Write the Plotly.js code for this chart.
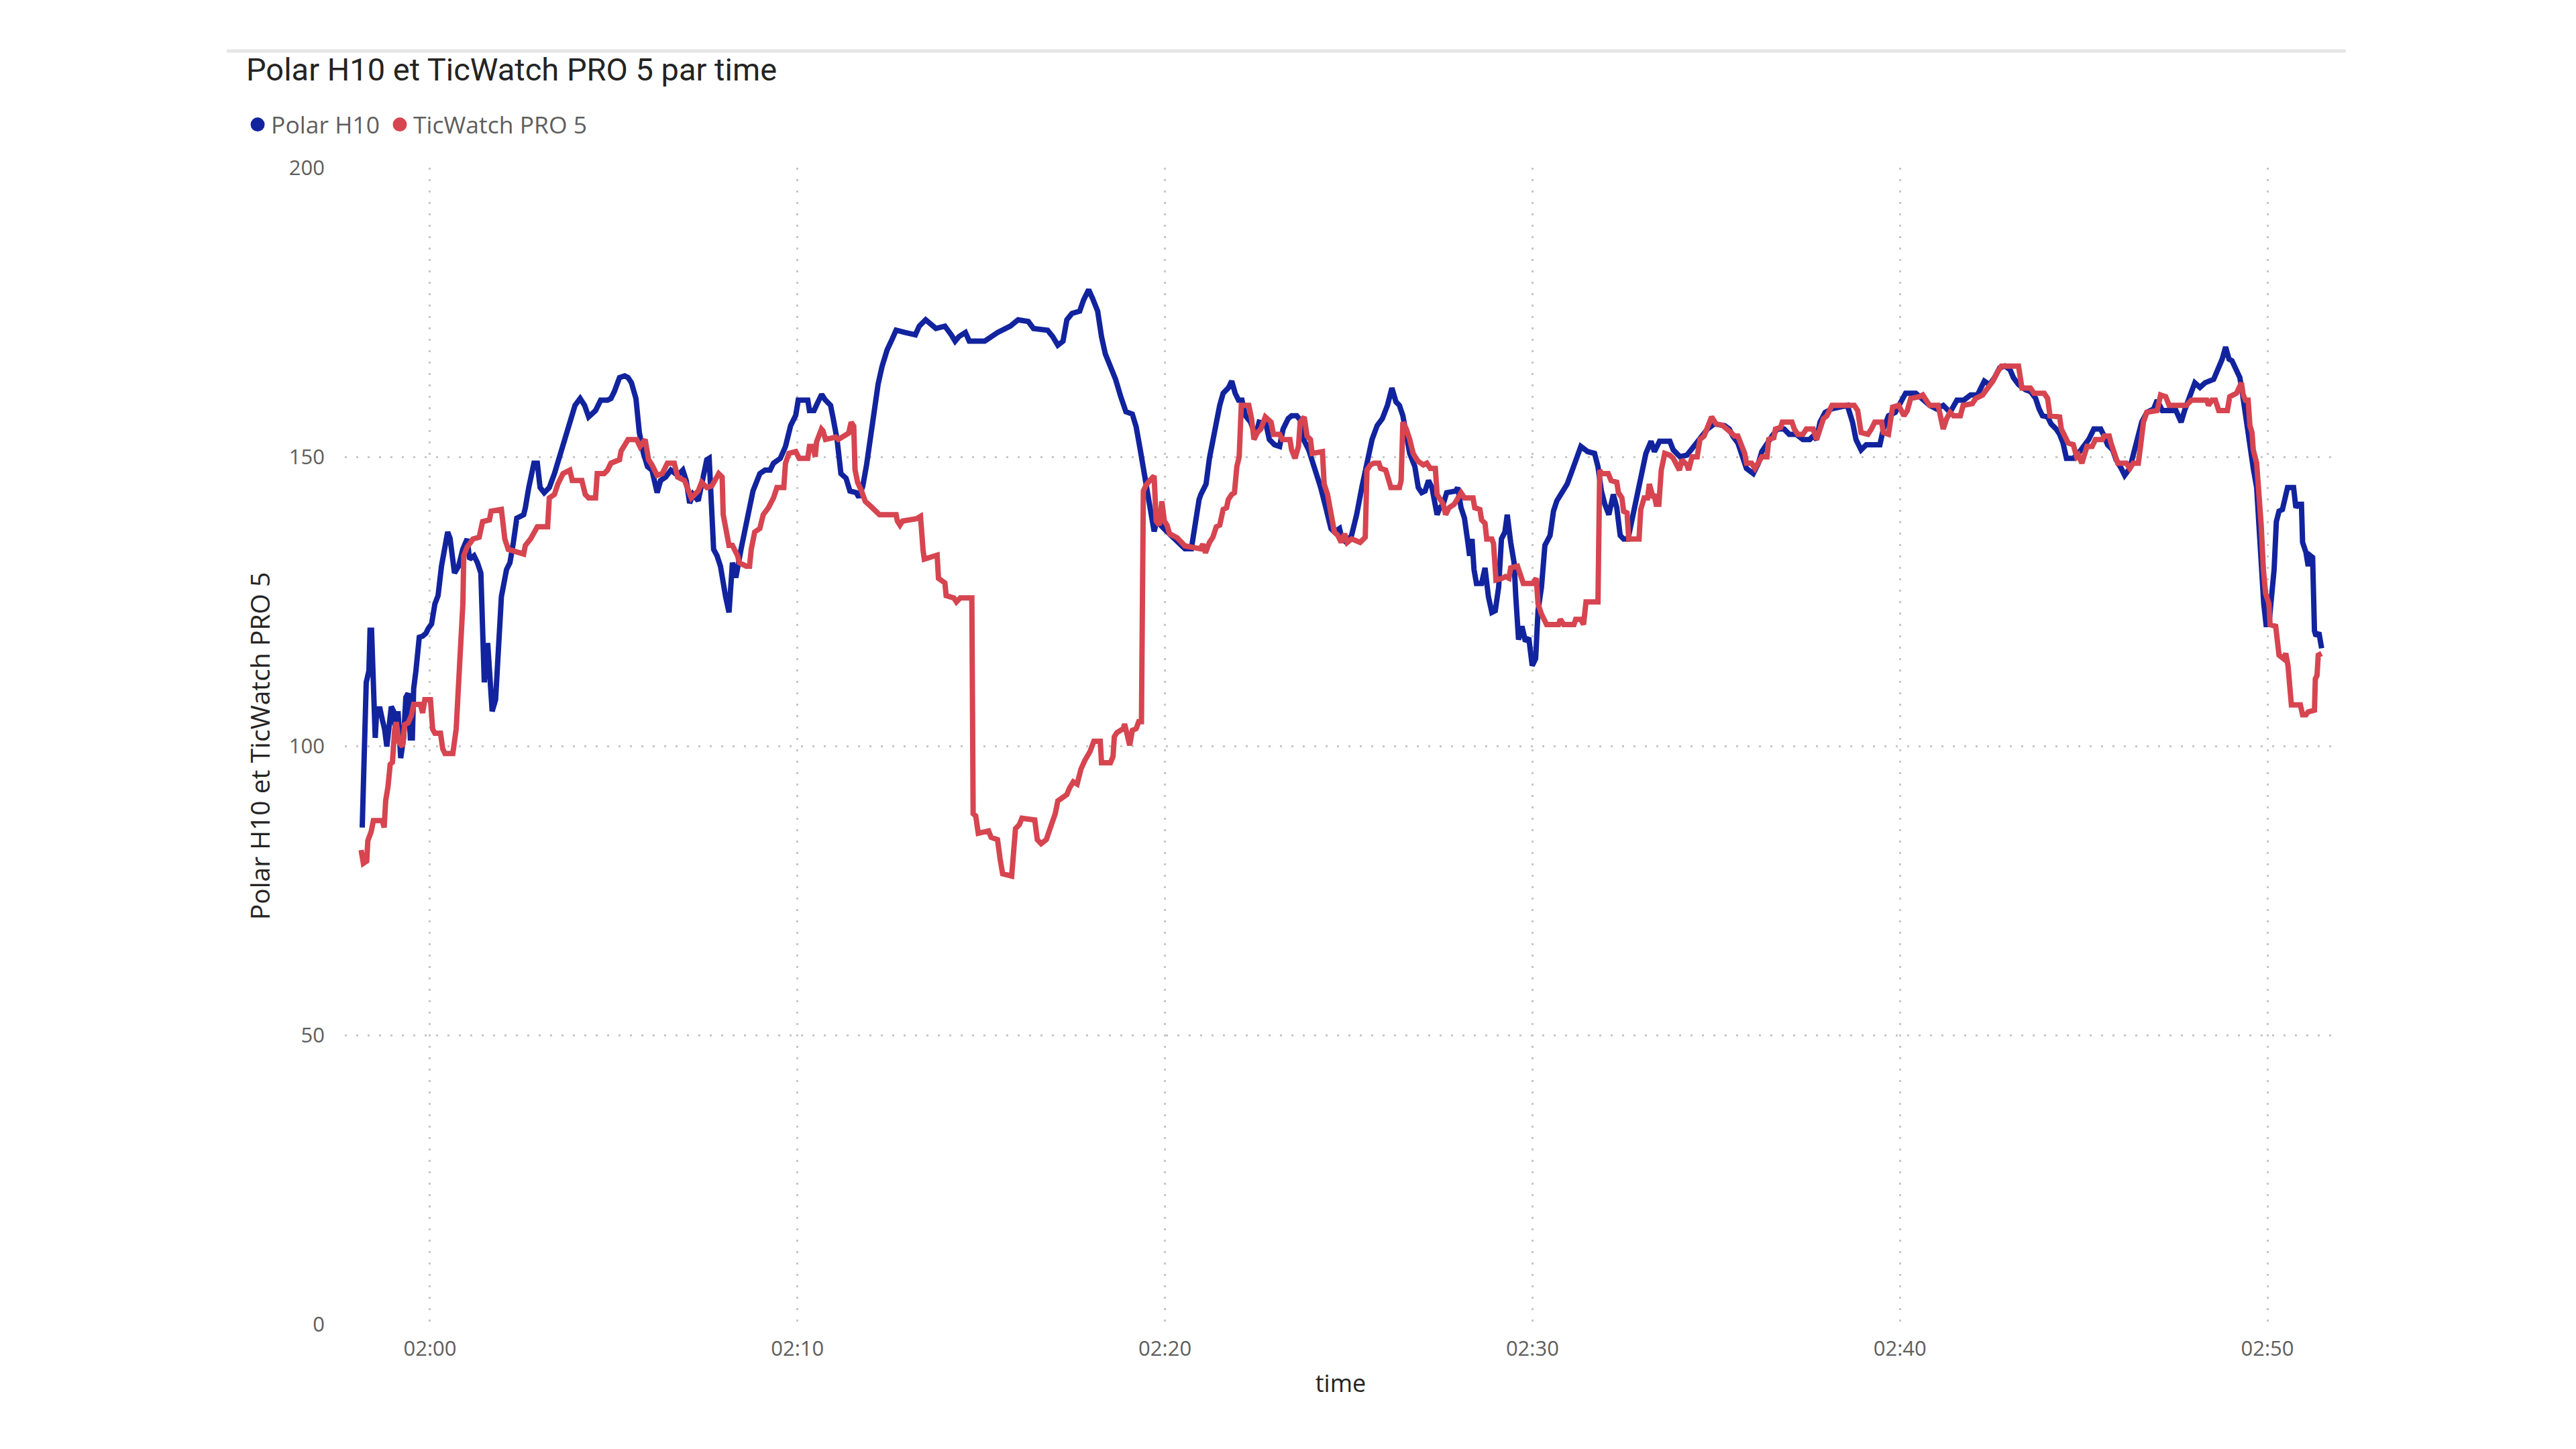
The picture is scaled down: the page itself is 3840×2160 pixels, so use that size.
<!DOCTYPE html>
<html>
<head>
<meta charset="utf-8">
<script src="https://cdn.plot.ly/plotly-3.0.1.min.js"></script>
<style>
  html, body { margin: 0; padding: 0; background: #ffffff; }
  #chart { width: 3840px; height: 2160px; }
</style>
</head>
<body>
<div id="chart"></div>
<script>
// ---- Data (minutes relative to 02:00, heart rate in bpm) ----
const seriesNames = ['Polar H10', 'TicWatch PRO 5'];
const seriesColors = ['#12239E', '#D64550'];

const polarMin = [
-1.844,-1.814,-1.783,-1.735,-1.662,-1.631,-1.59,-1.54,-1.49,-1.448,-1.36,-1.296,-1.235,-1.174,-1.113,-1.053,-0.99,-0.931,-0.87,-0.797,
-0.718,-0.657,-0.596,-0.535,-0.48,-0.444,-0.383,-0.292,-0.2,-0.11,-0.049,0.043,0.134,0.22,0.313,0.406,0.481,0.546,0.667,0.779,
0.891,1.012,1.077,1.198,1.291,1.384,1.431,1.478,1.57,1.692,1.785,1.85,1.943,2.083,2.176,2.269,2.362,2.549,2.595,2.688,
2.828,2.921,2.996,3.107,3.247,3.387,3.527,3.666,3.834,3.946,4.086,4.207,4.318,4.505,4.644,4.831,4.924,5.017,5.157,5.297,
5.39,5.482,5.604,5.697,5.808,5.92,6.041,6.181,6.274,6.414,6.554,6.74,6.88,6.973,7.066,7.159,7.299,7.439,7.532,7.597,
7.671,7.718,7.811,7.904,8.044,8.137,8.23,8.323,8.463,8.556,8.696,8.789,8.975,9.115,9.255,9.348,9.534,9.674,9.814,9.953,
10.02,10.28,10.326,10.45,10.559,10.658,10.75,10.9,10.97,11.077,11.182,11.322,11.427,11.6,11.671,11.776,11.88,11.985,12.09,12.195,
12.3,12.44,12.58,12.684,12.929,13.208,13.313,13.487,13.767,14.011,14.186,14.29,14.395,14.57,14.675,15.094,15.444,15.793,16.003,16.282,
16.422,16.806,16.945,17.085,17.225,17.33,17.47,17.68,17.784,17.924,18.03,18.168,18.273,18.377,18.517,18.657,18.797,18.937,19.111,19.216,
19.32,19.425,19.53,19.635,19.705,19.81,19.88,19.984,20.124,20.333,20.543,20.718,20.823,20.928,20.978,21.118,21.21,21.304,21.397,21.49,
21.584,21.723,21.817,21.91,22.003,22.096,22.19,22.33,22.468,22.562,22.748,22.84,22.98,23.12,23.214,23.353,23.446,23.586,23.726,23.772,
23.912,24.005,24.099,24.238,24.378,24.518,24.61,24.75,24.816,24.937,25.077,25.216,25.356,25.496,25.635,25.775,25.915,26.054,26.175,26.287,
26.38,26.474,26.567,26.66,26.8,26.893,26.986,27.079,27.172,27.265,27.405,27.48,27.572,27.666,27.917,27.964,28.057,28.15,28.243,28.29,
28.355,28.41,28.476,28.616,28.709,28.802,28.895,28.988,29.081,29.156,29.25,29.314,29.408,29.5,29.547,29.622,29.714,29.808,29.9,29.994,
30.087,30.152,30.246,30.339,30.479,30.572,30.665,30.805,30.945,31.084,31.205,31.317,31.503,31.69,31.783,31.876,31.97,32.08,32.2,32.295,
32.388,32.48,32.6,32.714,32.807,32.9,32.993,33.087,33.226,33.319,33.459,33.739,33.832,34.018,34.204,34.39,34.577,34.763,34.95,35.23,
35.357,35.45,35.59,35.73,35.823,36.009,36.149,36.242,36.382,36.521,36.661,36.847,36.987,37.173,37.36,37.546,37.639,37.732,37.825,37.965,
38.151,38.57,38.71,38.804,38.943,39.083,39.316,39.455,39.548,39.688,39.874,40.014,40.154,40.433,40.62,40.806,40.992,41.178,41.364,41.551,
41.737,41.923,42.11,42.203,42.296,42.436,42.575,42.715,42.855,42.995,43.088,43.227,43.414,43.553,43.693,43.786,43.879,44.019,44.112,44.252,
44.345,44.438,44.485,44.531,44.717,44.857,44.997,45.137,45.276,45.463,45.556,45.65,45.789,45.882,46.022,46.115,46.254,46.347,46.44,46.58,
46.72,46.906,47.0,47.14,47.512,47.652,47.745,47.884,48.024,48.164,48.303,48.536,48.676,48.769,48.862,48.955,49.036,49.158,49.25,49.34,
49.432,49.524,49.615,49.707,49.768,49.83,49.9,49.963,50.042,50.103,50.182,50.243,50.316,50.408,50.469,50.548,50.712,50.774,50.835,50.926,
50.957,51.048,51.109,51.17,51.23,51.28,51.322,51.401,51.475
];
const polarHR = [
85.9,94.8,102.9,111,113,120,120,113,101.4,106.4,106.4,104.5,102.9,99.9,103.3,106.8,106,102.2,106,97.9,
101.4,108.4,109.1,101.4,101.4,109.9,113,118.8,119,119.5,120.3,121.1,124.6,126,131.1,134,137,135.9,129.9,131.1,
134,135.8,132.3,132.9,131.7,129.9,121,111,117.8,106,108,114.5,125.8,130.5,131.7,135.2,139.4,140,141.2,144.7,
148.9,148.9,144.7,143.8,144.7,147.1,150,153,156.6,158.9,160.1,158.9,156.9,158,159.8,159.8,160.1,161.3,163.7,164,
163.7,162.8,160.1,154.2,150.6,148.3,147.7,143.8,145.9,146.5,147.7,146.8,147.7,145.9,142,143.5,142.4,147.1,149.5,149.75,
141.2,134,132.9,131.1,125.8,123.1,131.7,129.1,134,137,141.2,144.1,147.1,147.7,147.7,148.9,149.75,151.8,155.4,157.2,
159.8,159.8,158,158,159.5,160.8,159.9,158.9,156.7,153,147.1,146.3,144.1,143.8,143,144.9,148.6,153,158.9,162.6,
165.6,168.5,170.4,171.9,171.5,171.1,172.6,173.7,172.2,172.6,171.1,170,170.8,171.5,170,170,171.5,172.6,173.7,173.4,
172.2,171.9,170.8,169.3,170,173.7,174.8,175.2,177.1,178.9,177.4,175.2,170.8,167.8,165.6,163.4,160.4,157.8,157.4,155.2,
151.5,147.8,143.4,139.7,137.1,139.7,138.2,137.5,136.7,135.6,134.1,134.1,138.9,142.6,143.5,145.3,149.75,153,156.6,158.9,
161,161.9,163.1,161,159.8,159.8,157.1,156,153.6,156,155.7,153,152.1,151.8,154.8,156.6,157.1,157.1,156,153,
151.2,149.5,147.1,144.7,141.2,137.6,137,137.6,135.8,135.2,136.4,140,144.7,149.5,153,155.4,156.6,158.9,161.9,159.5,
158.9,157.1,154.2,150.6,148.3,144.7,143.8,144.1,145.9,144.7,140,141.2,141.8,143.8,144.1,144.7,141.2,139.4,135.2,132.9,
135.8,130.5,128.1,128.1,130.8,125.8,123.1,123.4,127.5,135.8,137,140,135.2,131.7,125.8,118.4,120.7,118.1,118.7,113.9,
115.1,123.4,127.5,134.7,136.4,140.6,142.4,144.1,145.3,147.7,150,151.8,150.9,150.6,148.3,144.1,141.8,140,143.5,141.2,
136.4,135.8,135.8,139.4,141.8,144.7,148.3,150.6,152.7,150.9,152.7,152.7,151.2,150,150.3,151.8,153,154.8,155.7,155.4,
154.8,153.6,152.4,149.5,148,147.1,148.9,150.9,152.4,153.6,154.8,154.8,153.9,153.9,153,153,153.6,153,156,157.7,
158.3,158.9,156,153,151.2,152.1,152.1,152.1,154.8,157.1,157.7,159.5,161,161,159.8,158.9,158.3,158.9,157.7,159.8,
159.8,160.7,160.7,161.9,163.1,162.5,163.7,165.4,165.7,165.1,163.7,162.5,161.6,161.3,160.1,158.3,157.1,156.9,155.7,154.8,
153.9,152.4,150.3,149.75,149.75,150.6,151.8,153,154.8,154.8,153.6,152.1,151.2,149.5,148,146.8,148,150.3,153,156,
157.7,158.3,159.8,158,158,156,158,160.7,162.8,162,162.8,163.4,165.4,166.9,169,166.9,166.6,164.8,163.7,160.1,
156,151.2,148,144.7,137.6,130.5,124.6,121,121,125.2,130.5,138.8,140.6,140.9,142.4,144.7,144.7,141.2,141.8,141.8,
135.2,133.5,131.1,132.9,132.6,119.9,119,119.6,116.9
];

const ticMin = [
-1.874,-1.813,-1.722,-1.692,-1.6,-1.54,-1.296,-1.247,-1.205,-1.144,-1.083,-1.022,-0.961,-0.919,-0.839,-0.748,-0.687,-0.596,-0.505,-0.444,
-0.262,-0.201,-0.14,0.012,0.073,0.134,0.286,0.347,0.408,0.621,0.712,0.773,0.834,0.895,0.919,1.012,1.105,1.17,1.338,1.431,
1.617,1.664,1.943,2.036,2.13,2.549,2.595,2.735,2.921,3.2,3.247,3.387,3.48,3.62,3.806,3.871,4.132,4.225,4.318,4.505,
4.551,4.737,4.83,4.924,5.157,5.2,5.39,5.622,5.715,5.855,5.948,6.041,6.181,6.32,6.46,6.647,6.74,6.926,7.019,7.112,
7.299,7.392,7.532,7.671,7.857,7.95,7.979,8.09,8.137,8.23,8.37,8.416,8.603,8.696,8.742,8.836,8.975,9.068,9.208,9.348,
9.441,9.627,9.674,9.767,9.953,10.046,10.28,10.326,10.42,10.483,10.52,10.652,10.693,10.763,11.042,11.112,11.392,11.461,11.531,11.566,
11.636,11.741,11.846,11.985,12.125,12.23,12.684,12.719,12.789,12.859,13.243,13.348,13.418,13.452,13.8,13.837,14.011,14.046,14.256,14.326,
14.43,14.745,14.78,14.85,14.92,15.2,15.269,15.444,15.513,15.583,15.828,15.863,15.933,16.037,16.107,16.457,16.526,16.631,16.771,16.91,
17.015,17.085,17.19,17.33,17.4,17.505,17.61,17.714,17.819,17.959,18.064,18.24,18.273,18.517,18.587,18.622,18.692,18.867,18.902,18.972,
19.041,19.111,19.216,19.286,19.36,19.412,19.495,19.6,19.705,19.76,19.844,19.915,19.984,20.054,20.124,20.333,20.543,20.962,21.032,21.102,
21.21,21.304,21.397,21.49,21.584,21.677,21.723,21.817,21.891,21.956,22.02,22.077,22.282,22.357,22.422,22.515,22.608,22.73,22.794,22.888,
22.953,23.12,23.195,23.4,23.446,23.54,23.633,23.68,23.79,23.866,23.959,24.005,24.285,24.331,24.424,24.518,24.61,24.704,24.797,24.89,
24.96,25.077,25.31,25.45,25.496,25.59,25.682,25.822,25.868,26.007,26.1,26.148,26.38,26.427,26.474,26.567,26.66,26.753,26.83,26.893,
27.032,27.125,27.22,27.358,27.405,27.498,27.572,27.638,27.73,27.871,27.964,28.057,28.15,28.383,28.43,28.57,28.616,28.709,28.756,28.895,
28.941,28.988,29.007,29.174,29.267,29.36,29.408,29.594,29.66,29.752,30.013,30.105,30.152,30.246,30.385,30.71,30.757,30.85,31.13,31.177,
31.317,31.39,31.457,31.783,31.83,31.876,32.062,32.14,32.295,32.34,32.434,32.48,32.574,32.621,32.9,32.947,33.04,33.133,33.18,33.273,
33.32,33.366,33.44,33.505,33.6,33.74,33.832,33.925,34.0,34.065,34.204,34.25,34.343,34.483,34.558,34.67,34.763,34.875,34.996,35.18,
35.4,35.5,35.59,35.683,35.776,35.823,35.962,36.056,36.149,36.242,36.382,36.428,36.568,36.614,36.754,36.8,37.061,37.127,37.22,37.36,
37.453,37.639,37.732,37.825,37.918,38.012,38.151,38.757,38.85,38.943,39.129,39.222,39.316,39.502,39.548,39.688,39.735,39.8,39.967,40.107,
40.2,40.293,40.526,40.62,40.712,40.806,41.039,41.085,41.178,41.271,41.364,41.458,41.644,41.72,41.97,42.063,42.25,42.39,42.529,42.668,
42.762,43.227,43.274,43.32,43.553,43.646,43.926,44.019,44.084,44.205,44.345,44.392,44.485,44.578,44.717,44.81,44.857,44.95,45.09,45.23,
45.32,45.51,45.556,45.696,45.742,45.835,45.928,46.161,46.254,46.347,46.487,46.534,46.627,46.72,47.0,47.093,47.233,47.325,47.791,47.931,
48.35,48.396,48.49,48.583,48.676,48.909,48.975,49.158,49.25,49.292,49.341,49.402,49.475,49.524,49.58,49.615,49.707,49.768,49.83,49.89,
49.95,50.042,50.072,50.225,50.255,50.316,50.438,50.5,50.56,50.652,50.896,50.957,51.048,51.109,51.28,51.304,51.35,51.383,51.475
];
const ticHR = [
82,79.7,80.1,83.6,85.2,87.1,87.1,85.9,90.6,92.9,96.8,97.2,102.9,104.1,100.6,99.9,103.7,104,105.3,107.2,
107.2,105.7,108,108,102.9,102.2,102.2,99.5,98.7,98.7,102.9,109.1,114.9,124.6,132.9,134.4,135.2,135.8,136.1,138.8,
139.1,140.6,140.9,135.8,134,133.2,134.7,135.8,137.9,137.9,142.9,143.5,145.3,147.1,147.7,145.9,145.9,143.5,142.9,142.9,
147.1,147.1,147.7,148.9,149.5,151,153,153,151.8,153,149.5,148.6,146.8,147.1,148.9,148.9,146.5,145.9,144.4,142.9,
144.1,145.6,144.7,145,147.1,146.5,140,136.4,134.7,134.7,132.9,131.7,131.1,131.1,134,137,137.6,140,141.2,142.9,
144.7,144.7,148.9,150.6,150.9,149.75,149.75,151.8,151.8,150,152.6,154.8,154.5,153,153.4,153,154.1,156,155.3,147.8,
145.6,144.1,142.3,141.5,140.8,140,140,138.9,138.2,138.9,139.3,139.7,133.8,132.3,133,129,128.2,126,125.6,124.9,
125.6,125.6,88.3,87.9,84.9,85.3,84.2,83.8,80.5,77.9,77.5,80.9,85.7,86.4,87.5,87.2,83.8,83.1,83.8,86.4,
88.3,90.5,90.9,91.6,92.7,93.8,93.4,96,97.5,99,100.8,100.8,97.1,97.1,98.2,101.6,102.3,103,103.8,102,
100.1,102.7,103,104.2,104.2,144.1,145.2,146,146.7,138.9,138.2,142.3,138.9,138.2,136.7,136,134.6,134.1,134.9,133.4,
135.2,136.1,137.9,138.2,140.9,141.2,142.6,143.5,143.8,148.3,150,158.9,158.9,156.6,153,154.2,154.8,156.9,156.6,156,
153.9,153.9,153,153,151.2,149.75,151.8,156,156.9,153.6,153,150.6,150.9,145.3,143.5,140,137,136.4,135.2,136.7,
135.2,135.8,135.2,136.1,147.7,148.6,148.9,148.9,148,147.7,145.9,144.7,144.7,145.9,156,154.8,153,150.6,149.75,149.2,
148.6,148.9,148,148,143.5,142.4,141.8,140,141.2,141.8,142.9,143.8,142.9,142.9,141.2,140.9,139.1,138.5,135.8,135.8,
135,131.7,128.7,129,129.3,129,130.8,131.1,129.9,128.1,128.1,129,124.6,122.8,121,121,121.9,121,121,121.9,
121.9,121,124.9,124.9,147.7,147.1,147.1,145.9,145.6,143.8,142.9,140.6,140.3,135.8,135.8,140.9,142.9,142.9,145.3,143.2,
143.2,141.8,141.8,147.7,150.6,150.3,149.75,148.6,147.7,149.5,148.6,147.7,150,150,153,153.6,155.1,156.9,155.7,155.4,
154.2,153.6,153.6,151.8,150.6,148.9,148.9,148,148.9,150,150,153,153.3,154.8,155.1,156,156,154.8,153.9,153.9,
154.8,154.8,153,154.8,156.6,157.1,158.9,158.9,158,154.2,153.9,154.8,156,156,154.2,153.9,156.6,158.6,158.9,157.1,
158,160.1,160.4,160.7,159.8,158.9,158.9,157.7,154.8,156.6,157.7,157.1,157.1,158.9,159.2,160.1,160.7,161.9,163.1,164.8,
165.7,165.7,163.1,161.9,161.9,161,161,160.1,157.1,156.9,156.9,154.8,153.6,152.4,152.1,150,150.3,148.9,151.8,151.8,
153,153,153.6,153.6,152.4,150.6,148.9,148.9,148,148.9,148.9,151.2,156,157.7,158,160.7,160.4,158.9,158.9,159.8,
159.8,158.9,159.8,159.8,158,158,160.4,161,162.5,162.8,160.7,159.8,159.8,155.4,154.2,151.2,148.9,144.1,138.2,130.5,
126.4,124.6,121,120.7,118.7,115.7,115.1,116,113.9,107.1,107.1,105.4,105.4,105.9,106.2,111.6,112.2,115.7,116
];

const yTickVals = [0, 50, 100, 150, 200];
const xTickMinutes = [0, 10, 20, 30, 40, 50];
const xTickLabels = ['02:00', '02:10', '02:20', '02:30', '02:40', '02:50'];
const xRangeMinutes = [-2.318, 51.88];

// ---- helpers ----
function pad(n) { return (n < 10 ? '0' : '') + n; }
function toTime(m) {
  const totalMs = Math.round((120 + m) * 60000);
  const h = Math.floor(totalMs / 3600000);
  const mi = Math.floor((totalMs % 3600000) / 60000);
  const s = Math.floor((totalMs % 60000) / 1000);
  const ms = totalMs % 1000;
  return '2024-01-01 ' + pad(h) + ':' + pad(mi) + ':' + pad(s) + '.' + String(ms).padStart(3, '0');
}

const lineTraces = [
  { x: polarMin.map(toTime), y: polarHR, name: seriesNames[0], color: seriesColors[0] },
  { x: ticMin.map(toTime), y: ticHR, name: seriesNames[1], color: seriesColors[1] }
].map(s => ({
  type: 'scatter', mode: 'lines', x: s.x, y: s.y, name: s.name,
  line: { color: s.color, width: 8, shape: 'linear' },
  showlegend: false, hoverinfo: 'skip'
}));

const legendIds = ['legend', 'legend2'];
const legendTraces = seriesNames.map((n, i) => ({
  type: 'scatter', mode: 'markers', x: [null], y: [null], name: n,
  legend: legendIds[i],
  marker: { symbol: 'circle', size: 16, color: seriesColors[i], line: { color: seriesColors[i], width: 5 } },
  showlegend: true, hoverinfo: 'skip'
}));

const tickFont = { family: 'Open Sans, sans-serif', size: 31, color: '#605E5C' };
const gridColor = '#C8C6C4';
const legendFont = { family: 'Open Sans, sans-serif', size: 35.5, color: '#605E5C' };
const legendY = 1 + 64 / 1724;

const layout = {
  width: 3840, height: 2160,
  paper_bgcolor: '#ffffff', plot_bgcolor: '#ffffff',
  margin: { l: 514, r: 357, t: 250, b: 186, pad: 0 },
  title: {
    text: 'Polar H10 et TicWatch PRO 5 par time',
    font: { family: 'Roboto, sans-serif', size: 47, color: '#252423' },
    xref: 'container', yref: 'container',
    x: 367 / 3840, xanchor: 'left',
    y: 1 - 104 / 2160, yanchor: 'middle'
  },
  showlegend: true,
  legend: {
    orientation: 'h', x: -0.0505, xanchor: 'left', y: legendY, yanchor: 'middle',
    font: legendFont, itemsizing: 'trace', bgcolor: 'rgba(0,0,0,0)', borderwidth: 0
  },
  legend2: {
    orientation: 'h', x: (595 - 19 - 514) / 2969, xanchor: 'left', y: legendY, yanchor: 'middle',
    font: legendFont, itemsizing: 'trace', bgcolor: 'rgba(0,0,0,0)', borderwidth: 0
  },
  xaxis: {
    type: 'date',
    range: xRangeMinutes.map(toTime),
    tickvals: xTickMinutes.map(toTime),
    ticktext: xTickLabels,
    tickfont: tickFont,
    showgrid: true, gridcolor: gridColor, gridwidth: 3, griddash: '3px,14px',
    zeroline: false, showline: false, ticks: '',
    ticklabelstandoff: 15,
    title: { text: 'time', font: { family: 'Open Sans, sans-serif', size: 36, color: '#252423' }, standoff: 20 },
    automargin: false, fixedrange: true
  },
  yaxis: {
    range: [0, 200],
    tickvals: yTickVals,
    tickfont: tickFont,
    showgrid: true, gridcolor: gridColor, gridwidth: 3, griddash: '3px,14px',
    zeroline: false, showline: false, ticks: '',
    ticklabelstandoff: 29,
    title: { text: 'Polar H10 et TicWatch PRO 5', font: { family: 'Open Sans, sans-serif', size: 39, color: '#252423' }, standoff: 16 },
    automargin: false, fixedrange: true
  },
  shapes: [{
    type: 'line', xref: 'paper', yref: 'paper',
    x0: (338 - 514) / 2969, x1: (3497 - 514) / 2969,
    y0: 1 + (250 - 76) / 1724, y1: 1 + (250 - 76) / 1724,
    line: { color: '#E6E6E6', width: 5 }
  }]
};

Plotly.newPlot('chart', lineTraces.concat(legendTraces), layout, { staticPlot: true, displayModeBar: false });
</script>
</body>
</html>
